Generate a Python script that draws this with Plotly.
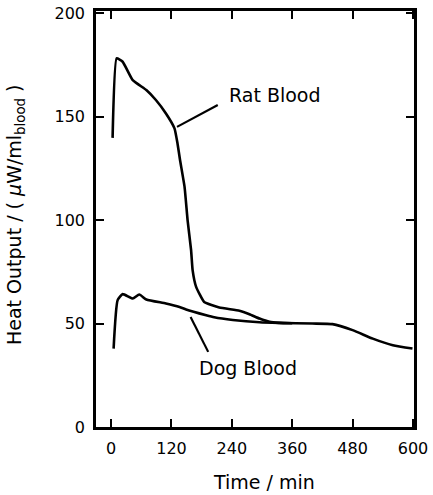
import plotly.graph_objects as go

# Rat blood heat output (time in min, μW/ml)
rat_t = [3, 11, 23, 43, 70, 89, 109, 126, 132, 137, 146, 152, 159, 162, 169, 185, 215, 255, 275, 295, 315, 334, 360]
rat_y = [139.7, 178.1, 176.5, 167.6, 162.8, 158.0, 151.5, 144.3, 137.0, 129.0, 116.0, 100.0, 85.4, 75.8, 67.7, 60.4, 57.7, 56.2, 54.5, 52.4, 50.8, 50.3, 50.1]

# Dog blood heat output
dog_t = [5, 13, 23, 43, 56, 70, 109, 136, 149, 189, 205, 242, 295, 334, 400, 440, 480, 520, 560, 599]
dog_y = [37.9, 61.3, 64.2, 62.1, 64.0, 61.6, 59.7, 58.0, 56.8, 54.0, 53.0, 51.7, 50.6, 50.3, 50.0, 49.7, 46.8, 42.7, 39.5, 37.9]

x_ticks = [0, 120, 240, 360, 480, 600]
y_ticks = [0, 50, 100, 150, 200]

FONT = "DejaVu Sans"

fig = go.Figure()
fig.add_trace(go.Scatter(x=rat_t, y=rat_y, mode="lines", name="Rat Blood",
                         line=dict(color="black", width=2.6, shape="spline", smoothing=0.4)))
fig.add_trace(go.Scatter(x=dog_t, y=dog_y, mode="lines", name="Dog Blood",
                         line=dict(color="black", width=2.6, shape="spline", smoothing=0.5)))

# leader lines for labels
fig.add_shape(type="line", x0=131, y0=145, x1=212, y1=155.6,
              line=dict(color="black", width=2.2), xref="x", yref="y")
fig.add_shape(type="line", x0=158, y0=53.2, x1=193, y1=36.3,
              line=dict(color="black", width=2.2), xref="x", yref="y")

fig.add_annotation(x=326, y=160.3, text="Rat Blood", showarrow=False,
                   font=dict(family=FONT, size=19, color="black"), xanchor="center", yanchor="middle")
fig.add_annotation(x=273, y=28.6, text="Dog Blood", showarrow=False,
                   font=dict(family=FONT, size=19, color="black"), xanchor="center", yanchor="middle")

# axis titles
fig.add_annotation(xref="paper", yref="paper", x=0, y=0.5, xshift=-81, yshift=4,
                   text="Heat Output / ( <i>μ</i>W/ml<sub>blood</sub> )", textangle=-90,
                   showarrow=False, xanchor="center", yanchor="middle",
                   font=dict(family=FONT, size=19, color="black"))
fig.add_annotation(xref="paper", yref="paper", x=0.5, y=0, xshift=9, yshift=-55,
                   text="Time / min", showarrow=False, xanchor="center", yanchor="middle",
                   font=dict(family=FONT, size=19, color="black"))

axis_common = dict(showgrid=False, zeroline=False, showline=True, linecolor="black",
                   linewidth=2.5, mirror="ticks", ticks="inside", ticklen=8, tickwidth=2,
                   tickcolor="black", tickfont=dict(family=FONT, size=16, color="black"),
                   automargin=False)

fig.update_xaxes(range=[-30, 602], tickvals=x_ticks, ticktext=[str(v) for v in x_ticks],
                 ticklabelstandoff=5, **axis_common)
fig.update_yaxes(range=[0, 201], tickvals=y_ticks, ticktext=[str(v) for v in y_ticks],
                 ticklabelstandoff=5, **axis_common)

fig.update_layout(width=433, height=495, margin=dict(l=96, r=19, t=11, b=68, autoexpand=False),
                  paper_bgcolor="white", plot_bgcolor="white", showlegend=False,
                  font=dict(family=FONT, color="black"))

fig.write_html("out.html", config={"displayModeBar": False},
               post_script="document.body.style.margin='0';")
